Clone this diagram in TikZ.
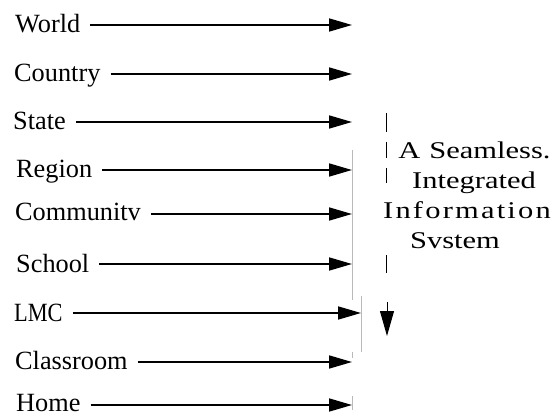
\documentclass[tikz,border=0pt]{standalone}
\usepackage{fontspec}
\usepackage{graphicx}
\setmainfont{Liberation Serif}
\newfontfamily\widefont[FakeStretch=1.27]{Liberation Serif}
\usetikzlibrary{arrows.meta}
\begin{document}
\begin{tikzpicture}[x=1pt,y=-1pt,
  lbl/.style={font=\fontsize{26.3}{30}\selectfont, anchor=base west, inner sep=0pt},
  arr/.style={line width=1.7pt, -{Triangle[length=23pt,width=13pt]}, shorten <=10pt},
  faint/.style={gray!55, line width=0.8pt},
  dn/.style={line width=1pt},
  ]
\useasboundingbox (0,0) rectangle (560,417);

% labels
\node[lbl] (world) at (15,33)  {World};
\node[lbl] (country) at (14,82) {Country};
\node[lbl] (state) at (13,130) {State};
\node[lbl] (region) at (16,178) {Region};
\node[lbl] (community) at (15,221) {Communitv};
\node[lbl] (school) at (16,272) {School};
\node[lbl] (lmc) at (14,321) {\scalebox{0.85}[1]{LMC}};
\node[lbl] (classroom) at (15,369) {Classroom};
\node[lbl] (home) at (16,411) {Home};

% arrow ends
\coordinate (tworld) at (352,25);
\coordinate (tcountry) at (352,74);
\coordinate (tstate) at (352,122);
\coordinate (tregion) at (352,170);
\coordinate (tcommunity) at (352,214);
\coordinate (tschool) at (352,264);
\coordinate (tlmc) at (361,313);
\coordinate (tclassroom) at (352,362);
\coordinate (thome) at (352,405);

\draw[arr] (world.east |- tworld) -- (tworld);
\draw[arr] (country.east |- tcountry) -- (tcountry);
\draw[arr] (state.east |- tstate) -- (tstate);
\draw[arr] (region.east |- tregion) -- (tregion);
\draw[arr] (community.east |- tcommunity) -- (tcommunity);
\draw[arr] (school.east |- tschool) -- (tschool);
\draw[arr] (lmc.east |- tlmc) -- (tlmc);
\draw[arr] (classroom.east |- tclassroom) -- (tclassroom);
\draw[arr] (home.east |- thome) -- (thome);

% faint vertical lines
\coordinate (v1a) at (352,150);
\coordinate (v1b) at (352,300);
\coordinate (v2a) at (361,296);
\coordinate (v2b) at (361,352);
\coordinate (v3a) at (352,352);
\coordinate (v3b) at (352,412);
\draw[faint] (v1a) -- (v1b);
\draw[faint] (v2a) -- (v2b);
\draw[faint, dash pattern=on 6pt off 38pt on 14pt off 20pt] (v3a) -- (v3b);

% dashed down arrow
\coordinate (dtop) at (386,113);
\coordinate (dmid) at (386,300);
\coordinate (dstart) at (387,302);
\coordinate (dend) at (387,336);
\draw[dn, dash pattern=on 19pt off 10pt on 16pt off 10pt on 15pt off 72pt on 18pt off 40pt] (dtop) -- (dmid);
\draw[dn, -{Triangle[length=25pt,width=14pt]}] (dstart) -- (dend);

% text block (base anchor = baseline of last line)
\node[font=\widefont\fontsize{24}{30}\selectfont, align=center, anchor=base, inner sep=0pt] (txt) at (467,248)
  {\hspace*{15pt}A\hspace{9pt}Seamless.\\\hspace*{14pt}Integrated\\I\kern2.2pt n\kern2.2pt f\kern2.2pt o\kern2.2pt r\kern2.2pt m\kern2.2pt a\kern2.2pt t\kern2.2pt i\kern2.2pt o\kern2.2pt n\\Svstem\hspace*{24pt}};
\end{tikzpicture}
\end{document}
